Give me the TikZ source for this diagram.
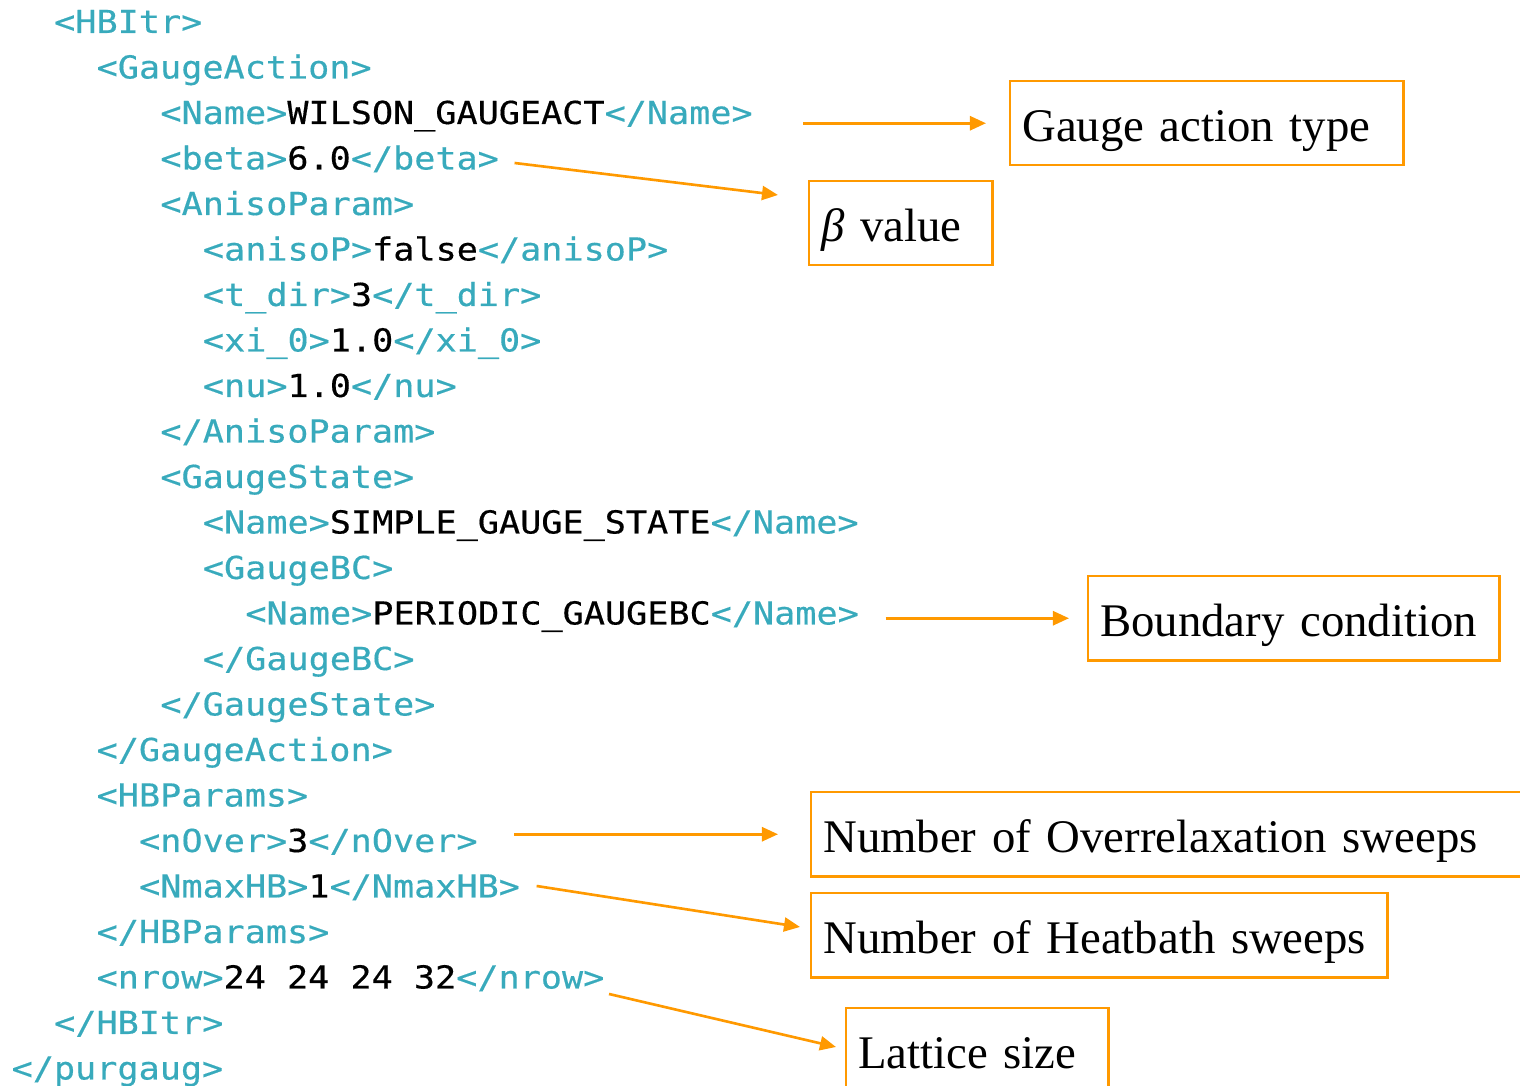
\documentclass[tikz,border=0pt]{standalone}
\usepackage{fontspec}
\setmainfont{Liberation Serif}
\newfontfamily\codefont[FakeStretch=1.11,FakeBold=0.4]{DejaVu Sans Mono}
\usetikzlibrary{arrows.meta,calc}
\definecolor{xmlteal}{RGB}{56,170,188}
\definecolor{noteorange}{RGB}{255,153,0}
\newcommand{\val}[1]{\textcolor{black}{#1}}
\tikzset{
  xml/.style={anchor=base west,inner sep=0pt,text=xmlteal,font=\codefont\fontsize{9}{10}\selectfont},
  note/.style={draw=noteorange,line width=0.7pt,anchor=north west,inner xsep=0.12cm,inner ysep=0pt,
    text height=0.6cm,text depth=0.24cm,align=left,font=\fontsize{13.3}{16}\selectfont},
  pointer/.style={noteorange,line width=0.75pt,-{Triangle[length=0.16cm,width=0.14cm]}}
}

\begin{document}
\begin{tikzpicture}[x=0.01cm,y=-0.01cm]
\useasboundingbox (0,0) rectangle (1520,1086);
% the xml input file
\node[xml] (hbitr)     at (53.5,33)     {<HBItr>};
\node[xml] (gact)      at (96,78.5)     {<GaugeAction>};
\node[xml] (actname)   at (159.75,124)  {<Name>\val{WILSON\_GAUGEACT}</Name>};
\node[xml] (beta)      at (159.75,169.5){<beta>\val{6.0}</beta>};
\node[xml] (aniso)     at (159.75,215)  {<AnisoParam>};
\node[xml] (anisop)    at (202.25,260.5){<anisoP>\val{false}</anisoP>};
\node[xml] (tdir)      at (202.25,306)  {<t\_dir>\val{3}</t\_dir>};
\node[xml] (xizero)    at (202.25,351.5){<xi\_0>\val{1.0}</xi\_0>};
\node[xml] (nu)        at (202.25,397)  {<nu>\val{1.0}</nu>};
\node[xml] (anisoend)  at (159.75,442.5){</AnisoParam>};
\node[xml] (gstate)    at (159.75,488)  {<GaugeState>};
\node[xml] (statename) at (202.25,533.5){<Name>\val{SIMPLE\_GAUGE\_STATE}</Name>};
\node[xml] (gbc)       at (202.25,579)  {<GaugeBC>};
\node[xml] (bcname)    at (244.75,624.5){<Name>\val{PERIODIC\_GAUGEBC}</Name>};
\node[xml] (gbcend)    at (202.25,670)  {</GaugeBC>};
\node[xml] (gstateend) at (159.75,715.5){</GaugeState>};
\node[xml] (gactend)   at (96,761)      {</GaugeAction>};
\node[xml] (hbpar)     at (96,806.5)    {<HBParams>};
\node[xml] (nover)     at (138.5,852)   {<nOver>\val{3}</nOver>};
\node[xml] (nmaxhb)    at (138.5,897.5) {<NmaxHB>\val{1}</NmaxHB>};
\node[xml] (hbparend)  at (96,943)      {</HBParams>};
\node[xml] (nrow)      at (96,988.5)    {<nrow>\val{24 24 24 32}</nrow>};
\node[xml] (hbitrend)  at (53.5,1034)   {</HBItr>};
\node[xml] (purgaug)   at (11,1079.5)   {</purgaug>};
% explanations
\node[note,text width=3.69cm] (gauge)     at (1009,80)  {Gauge action type};
\node[note,text width=1.59cm] (betabox)   at (808,180)  {{\itshape β} value};
\node[note,text width=3.87cm] (boundary)  at (1087,575) {Boundary condition};
\node[note,text width=6.96cm] (overrelax) at (810,791)  {Number of Overrelaxation sweeps};
\node[note,text width=5.52cm] (heatbath)  at (810,892)  {Number of Heatbath sweeps};
\node[note,text width=2.38cm] (lattice)   at (845,1007) {Lattice size};
% arrows
\draw[pointer] ($(actname.base east |- gauge.west)+(50,0)$) -- ($(gauge.west)+(-23,0)$);
\draw[pointer] ($(beta.base east)+(15,-6.5)$) -- ($(betabox.north west)+(-30,15)$);
\draw[pointer] ($(bcname.base east |- boundary.west)+(26,0)$) -- ($(boundary.west)+(-18,0)$);
\draw[pointer] ($(nover.base east |- overrelax.west)+(36,0)$) -- ($(overrelax.west)+(-32,0)$);
\draw[pointer] ($(nmaxhb.base east)+(16,-11.5)$) -- ($(heatbath.north west)+(-10,35)$);
\draw[pointer] ($(nrow.base east)+(4,5.5)$) -- ($(lattice.north west)+(-9,40)$);
\end{tikzpicture}
\end{document}
